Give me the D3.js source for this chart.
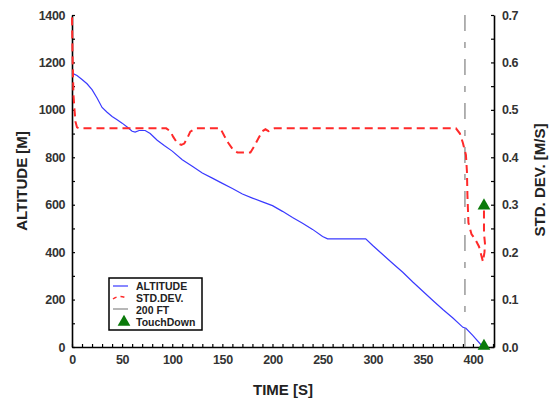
<!DOCTYPE html>
<html>
<head>
<meta charset="utf-8">
<script src="https://cdn.jsdelivr.net/npm/d3@7"></script>
<style>
  body { margin: 0; background: #fff; }
  svg { display: block; }
  .tick text { font-family: 'Liberation Sans', Arial, sans-serif; font-weight: bold; font-size: 12.5px; letter-spacing: -0.4px; fill: #333; }
  .title { font-family: 'Liberation Sans', Arial, sans-serif; font-weight: bold; font-size: 15px; fill: #222; }
  .legend text { font-family: 'Liberation Sans', Arial, sans-serif; font-weight: bold; font-size: 10.5px; fill: #222; }
</style>
</head>
<body>
<div class="chart-container"></div>
<script>
// altitude [m] against time [s]
var altTime = [0, 5, 10, 15, 20, 25, 30, 35, 40, 45, 50, 55, 60, 63, 67, 73, 78, 85, 92, 100,
  110, 120, 130, 140, 150, 160, 170, 180, 190, 200, 210, 220, 230, 240, 250, 255, 293,
  300, 310, 320, 330, 340, 350, 360, 370, 380, 390, 393, 400, 410];
var altValue = [1155, 1145, 1128, 1110, 1085, 1050, 1010, 990, 972, 958, 944, 928, 910, 906, 913, 913, 900, 872, 850, 826,
  790, 762, 734, 712, 690, 668, 645, 628, 612, 596, 572, 546, 522, 496, 466, 456, 456,
  428, 390, 352, 315, 274, 235, 196, 158, 122, 83, 79, 48, 0];

// std. dev. [m/s] against time [s]
var sdTime = [0, 0.5, 1, 1.5, 2.5, 3.5, 5, 7, 94, 98, 101, 105, 109, 112, 115, 118, 124,
  148, 152, 156, 160, 165, 178, 182, 186, 190, 193, 196, 202,
  383, 387, 390, 393, 394, 394.5, 395.5, 398.5, 402, 406, 410, 411.5, 412, 411, 411];
var sdValue = [0.695, 0.62, 0.57, 0.53, 0.5, 0.475, 0.463, 0.461, 0.461, 0.455, 0.443, 0.43, 0.426, 0.429, 0.44, 0.454, 0.461,
  0.461, 0.445, 0.43, 0.418, 0.41, 0.41, 0.424, 0.44, 0.455, 0.459, 0.455, 0.461,
  0.461, 0.45, 0.43, 0.405, 0.37, 0.32, 0.262, 0.238, 0.228, 0.212, 0.18, 0.2, 0.218, 0.24, 0.3];

// 200 ft marker and touchdown
var fenceTime = 392,
  fenceAlt = 79,
  fenceTop = 1400,
  fenceDashEnd = 120;
var touchTime = 411,
  touchAlt = 0,
  touchSd = 0.3;

// ticks
var xTicks = d3.range(0, 421, 10),
  xLabels = [0, 50, 100, 150, 200, 250, 300, 350, 400];
var altTicks = d3.range(0, 1401, 100),
  altLabels = [0, 200, 400, 600, 800, 1000, 1200, 1400];
var sdTicks = d3.range(0, 15).map(function (i) { return i * 0.05; }),
  sdLabels = ['0.0', '0.1', '0.2', '0.3', '0.4', '0.5', '0.6', '0.7'];

var legendNames = ['ALTITUDE', 'STD.DEV.', '200 FT', 'TouchDown'];

var width = 554,
  height = 401,
  plotLeft = 72,
  plotRight = 494,
  plotTop = 15,
  plotBottom = 347;

var svg = d3
  .select('.chart-container')
  .append('svg')
  .attr('width', width)
  .attr('height', height);

var x = d3.scaleLinear().domain([0, 421]).range([plotLeft, plotRight]);
var yAlt = d3.scaleLinear().domain([0, 1400]).range([plotBottom, plotTop]);
var ySd = d3.scaleLinear().domain([0, 0.7]).range([plotBottom, plotTop]);

// axes
var axisX = svg
  .append('g')
  .attr('transform', 'translate(0,' + plotBottom + ')')
  .call(
    d3.axisBottom(x)
      .tickValues(xTicks)
      .tickSize(-3)
      .tickSizeOuter(0)
      .tickPadding(8)
      .tickFormat(function (d) { return xLabels.indexOf(d) >= 0 ? d : ''; })
  );

var axisAlt = svg
  .append('g')
  .attr('transform', 'translate(' + plotLeft + ',0)')
  .call(
    d3.axisLeft(yAlt)
      .tickValues(altTicks)
      .tickSize(-3)
      .tickSizeOuter(0)
      .tickPadding(7)
      .tickFormat(function (d) { return altLabels.indexOf(d) >= 0 ? d : ''; })
  );

var axisSd = svg
  .append('g')
  .attr('transform', 'translate(' + plotRight + ',0)')
  .call(
    d3.axisRight(ySd)
      .tickValues(sdTicks)
      .tickSize(-3)
      .tickSizeOuter(0)
      .tickPadding(8)
      .tickFormat(function (d, i) { return i % 2 === 0 ? sdLabels[i / 2] : ''; })
  );

[axisX, axisAlt, axisSd].forEach(function (a) {
  a.select('.domain').attr('stroke', '#000').attr('stroke-width', 1.6);
  a.selectAll('.tick line').attr('stroke', '#000').attr('stroke-width', 1.2);
});

// titles
svg
  .append('text')
  .attr('class', 'title')
  .attr('text-anchor', 'middle')
  .attr('transform', 'translate(27,181) rotate(-90)')
  .text('ALTITUDE [M]');

svg
  .append('text')
  .attr('class', 'title')
  .attr('text-anchor', 'middle')
  .attr('x', 283)
  .attr('y', 395)
  .text('TIME [S]');

svg
  .append('text')
  .attr('class', 'title')
  .attr('text-anchor', 'middle')
  .attr('transform', 'translate(545,180) rotate(-90)')
  .text('STD. DEV. [M/S]');

// 200 ft line
svg
  .append('line')
  .attr('stroke', '#999')
  .attr('stroke-width', 1.5)
  .attr('stroke-dasharray', '16,11,6,11')
  .attr('x1', x(fenceTime))
  .attr('x2', x(fenceTime))
  .attr('y1', yAlt(fenceTop))
  .attr('y2', yAlt(fenceDashEnd));

svg
  .append('line')
  .attr('stroke', '#888')
  .attr('stroke-width', 1.2)
  .attr('x1', x(fenceTime))
  .attr('x2', x(fenceTime))
  .attr('y1', yAlt(0))
  .attr('y2', yAlt(fenceAlt));

// altitude
var altLine = d3
  .line()
  .x(function (d, i) { return x(altTime[i]); })
  .y(function (d) { return yAlt(d); });

svg
  .append('path')
  .attr('fill', 'none')
  .attr('stroke', '#3a3aff')
  .attr('stroke-width', 1.2)
  .attr('d', altLine(altValue));

// std dev
var sdLine = d3
  .line()
  .x(function (d, i) { return x(sdTime[i]); })
  .y(function (d) { return ySd(d); });

svg
  .append('path')
  .attr('fill', 'none')
  .attr('stroke', '#ff2a2a')
  .attr('stroke-width', 2)
  .attr('stroke-dasharray', '8,5')
  .attr('d', sdLine(sdValue));

// touchdown
var tri = d3.symbol().type(d3.symbolTriangle).size(70);

svg
  .append('path')
  .attr('fill', '#0a7a0a')
  .attr('d', tri())
  .attr('transform', 'translate(' + x(touchTime) + ',' + (ySd(touchSd) + 1) + ')');

svg
  .append('path')
  .attr('fill', '#0a7a0a')
  .attr('d', tri())
  .attr('transform', 'translate(' + x(touchTime) + ',' + (yAlt(touchAlt) - 1) + ')');

// legend
var legend = svg.append('g').attr('class', 'legend');

legend
  .append('rect')
  .attr('x', 109)
  .attr('y', 278)
  .attr('width', 93)
  .attr('height', 52)
  .attr('fill', '#fff')
  .attr('stroke', '#000')
  .attr('stroke-width', 1.5);

legend
  .append('line')
  .attr('x1', 113).attr('x2', 128)
  .attr('y1', 286).attr('y2', 286)
  .attr('stroke', '#3a3aff')
  .attr('stroke-width', 1.2);

legend
  .append('path')
  .attr('d', 'M113,299 Q120,294 128,299')
  .attr('fill', 'none')
  .attr('stroke', '#ff2a2a')
  .attr('stroke-width', 1.5)
  .attr('stroke-dasharray', '4,4');

legend
  .append('line')
  .attr('x1', 113).attr('x2', 128)
  .attr('y1', 309).attr('y2', 309)
  .attr('stroke', '#888')
  .attr('stroke-width', 1.2);

legend
  .append('path')
  .attr('fill', '#0a7a0a')
  .attr('d', tri())
  .attr('transform', 'translate(124,322)');

legend
  .selectAll('.legend-text')
  .data(legendNames)
  .enter()
  .append('text')
  .attr('class', 'legend-text')
  .attr('x', 136)
  .attr('y', function (d, i) { return 290 + i * 12; })
  .text(function (d) { return d; });
</script>
</body>
</html>
